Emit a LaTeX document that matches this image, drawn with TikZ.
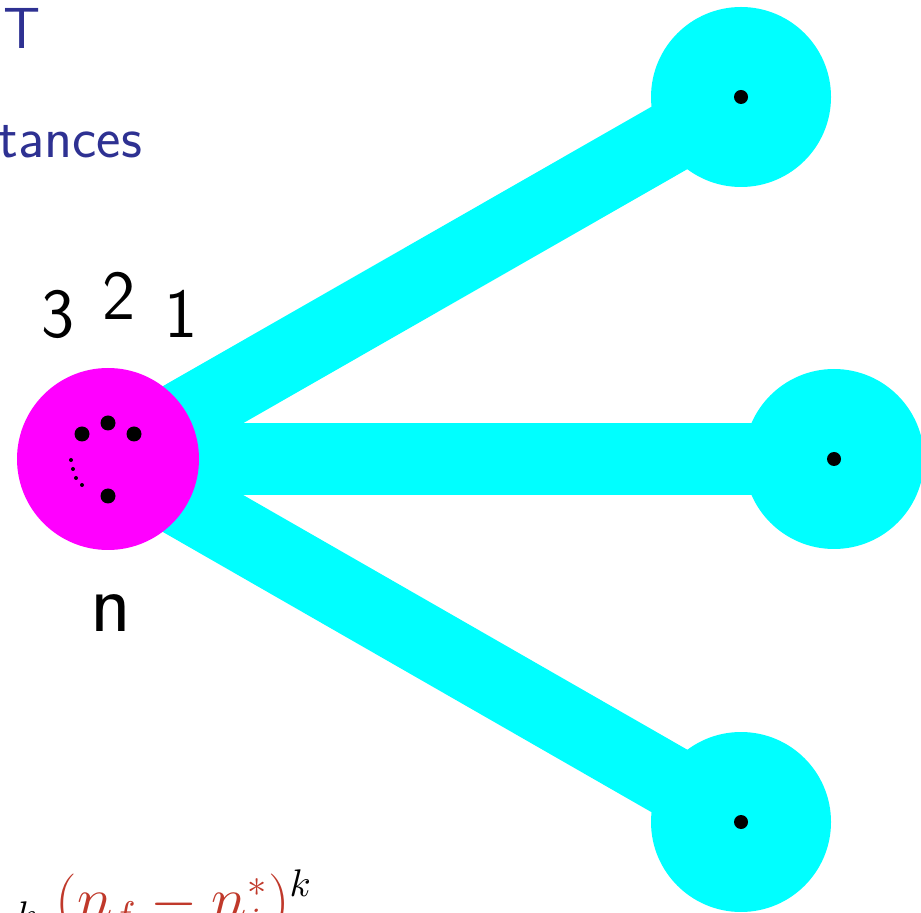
\documentclass[tikz,border=0pt]{standalone}
\usetikzlibrary{backgrounds}
\definecolor{cblue}{HTML}{2E3192}
\definecolor{cred}{HTML}{C0392B}
\definecolor{ccyan}{HTML}{00FFFF}
\definecolor{cmag}{HTML}{FF00FF}
\tikzset{
  every picture/.style={font=\sffamily},
  hub/.style={circle, fill=#1, minimum size=1.80cm, inner sep=0pt},
  hub/.default=ccyan,
  band/.style={draw=ccyan, line width=0.72cm},
  dot/.style={circle, fill=black, minimum size=#1, inner sep=0pt},
  dot/.default=0.15cm,
  lbl/.style={anchor=base, inner sep=0pt, font=\sffamily\fontsize{20}{24}\selectfont},
  head/.style={inner sep=0pt, text=cblue, font=\sffamily\fontsize{16.5}{19}\selectfont},
}

\begin{document}
\begin{tikzpicture}
  \useasboundingbox (0,0) rectangle (9.21,9.12);
  \node[head, anchor=base east] (ttl) at (0.41,8.63) {T};
  \node[head, anchor=base west] (sub) at (-0.02,7.54) {tances};
  % source and targets
  \node[hub=cmag, minimum size=1.82cm] (src) at (1.08,4.53) {};
  \node[hub] (t1) at (7.41,8.15) {};
  \node[hub] (t2) at (8.34,4.53) {};
  \node[hub] (t3) at (7.41,0.90) {};
  \begin{scope}[on background layer]
    \foreach \t in {t1,t2,t3}
      \draw[band] (src.center) -- (\t.center);
  \end{scope}
  \foreach \t in {t1,t2,t3}
    \node[dot=0.14cm] (c\t) at (\t) {};
  % particles inside the source
  \foreach \p [count=\i] in {(0.82,4.78), (1.08,4.89), (1.34,4.78), (1.08,4.16)}
    \node[dot] (d\i) at \p {};
  \foreach \p [count=\i] in {(0.71,4.52), (0.73,4.43), (0.76,4.34), (0.82,4.27)}
    \node[dot=0.04cm] (e\i) at \p {};
  \node[lbl] (l3) at (0.58,5.74) {3};
  \node[lbl] (l2) at (1.19,5.92) {2};
  \node[lbl] (l1) at (1.81,5.74) {1};
  \node[lbl, font=\sffamily\fontsize{24}{28}\selectfont] (ln) at (1.11,2.80) {n};
  \node[anchor=base west, inner sep=0pt, font=\fontsize{16}{19}\selectfont] (form) at (0.15,-0.07)
    {${}_k\;\textcolor{cred}{\big(n_f - n_i^*\big)}^k$};
\end{tikzpicture}
\end{document}
